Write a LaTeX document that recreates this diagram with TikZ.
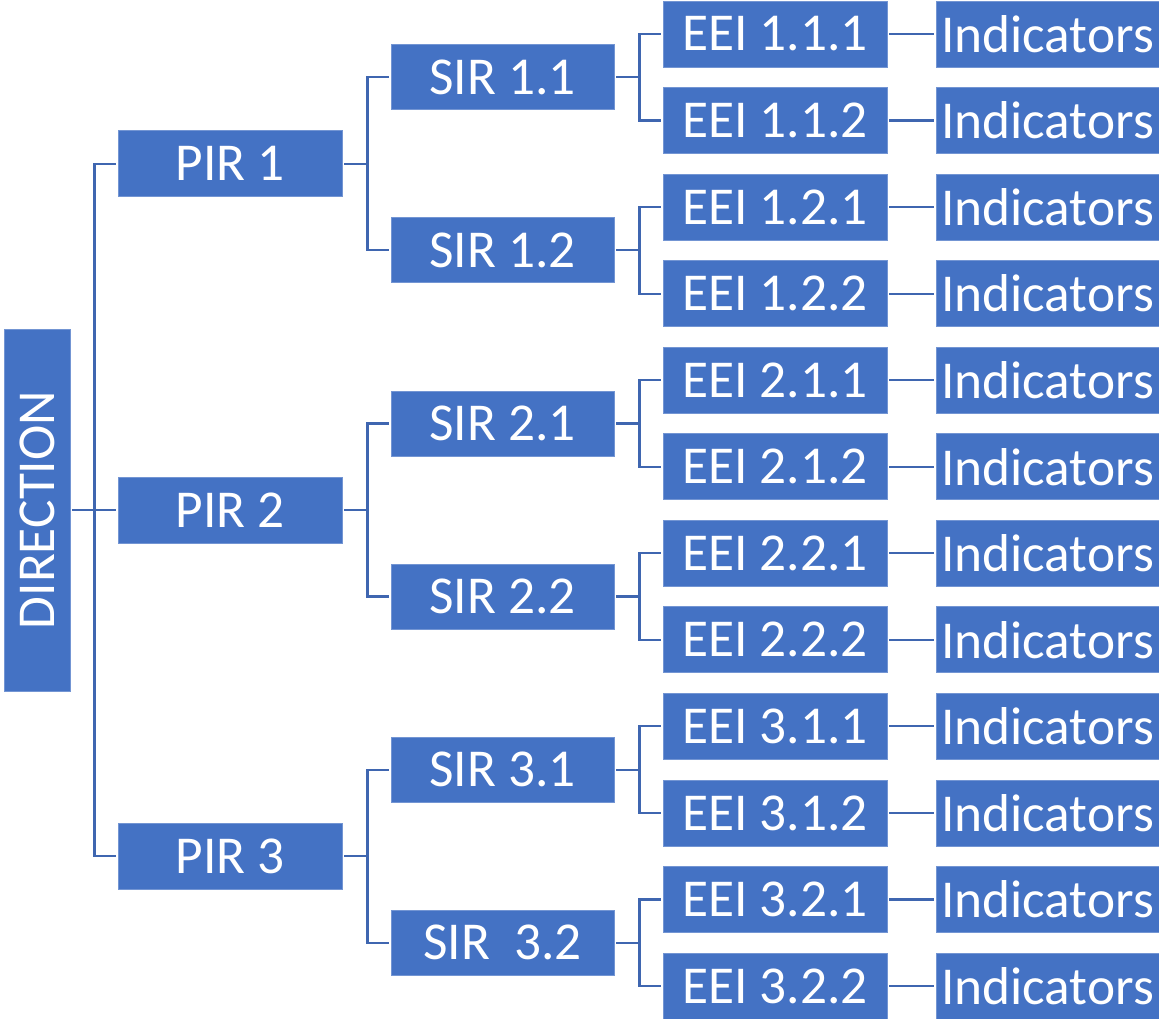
\documentclass[tikz,border=0pt]{standalone}
\usepackage{fontspec}
\setmainfont{Carlito}
\definecolor{boxblue}{HTML}{4472C4}
\definecolor{lineblue}{HTML}{3F66B0}
\begin{document}
\begin{tikzpicture}[x=1pt,y=-1pt,
  box/.style={fill=boxblue, draw=boxblue!75!white, line width=0.8pt, text=white,
    inner sep=0pt, font=\fontsize{53.3}{60}\selectfont},
  pirbox/.style={box, minimum width=224pt, minimum height=66pt},
  sirbox/.style={box, minimum width=223pt, minimum height=65pt},
  eeibox/.style={box, minimum width=224pt, minimum height=66pt},
  indbox/.style={box, minimum width=223pt, minimum height=66pt},
  conn/.style={draw=lineblue, line width=2.2pt, line join=miter, shorten <=2pt, shorten >=2pt}]
\useasboundingbox (0,0) rectangle (1159,1019);
\node[box, minimum width=66pt, minimum height=362pt] (dir) at (37,510) {\rotatebox{90}{DIRECTION}};
\foreach \k in {1,2,3} {
  \pgfmathsetmacro\py{163.8+346.2*(\k-1)}
  \node[pirbox] (pir\k) at (230,\py) {PIR \k};
  \draw[conn] (dir.east) -- ++(24,0) |- (pir\k.west);
  \foreach \j in {1,2} {
    \pgfmathsetmacro\sy{\py+86.55*(2*(\j-1)-1)}
    \node[sirbox] (sir\k\j) at (502.5,\sy) {\ifnum\k\j=32 SIR~~3.2\else SIR \k.\j\fi};
    \draw[conn] (pir\k.east) -- ++(25,0) |- (sir\k\j.west);
    \foreach \i in {1,2} {
      \pgfmathsetmacro\ey{\sy+86.55*(\i-1.5)}
      \node[eeibox] (eei\k\j\i) at (775,\ey) {EEI \k.\j.\i};
      \node[indbox] (ind\k\j\i) at (1047.5,\ey) {Indicators};
      \draw[conn] (sir\k\j.east) -- ++(25,0) |- (eei\k\j\i.west);
      \draw[conn] (eei\k\j\i.east) -- (ind\k\j\i.west);
    }
  }
}
\end{tikzpicture}
\end{document}
